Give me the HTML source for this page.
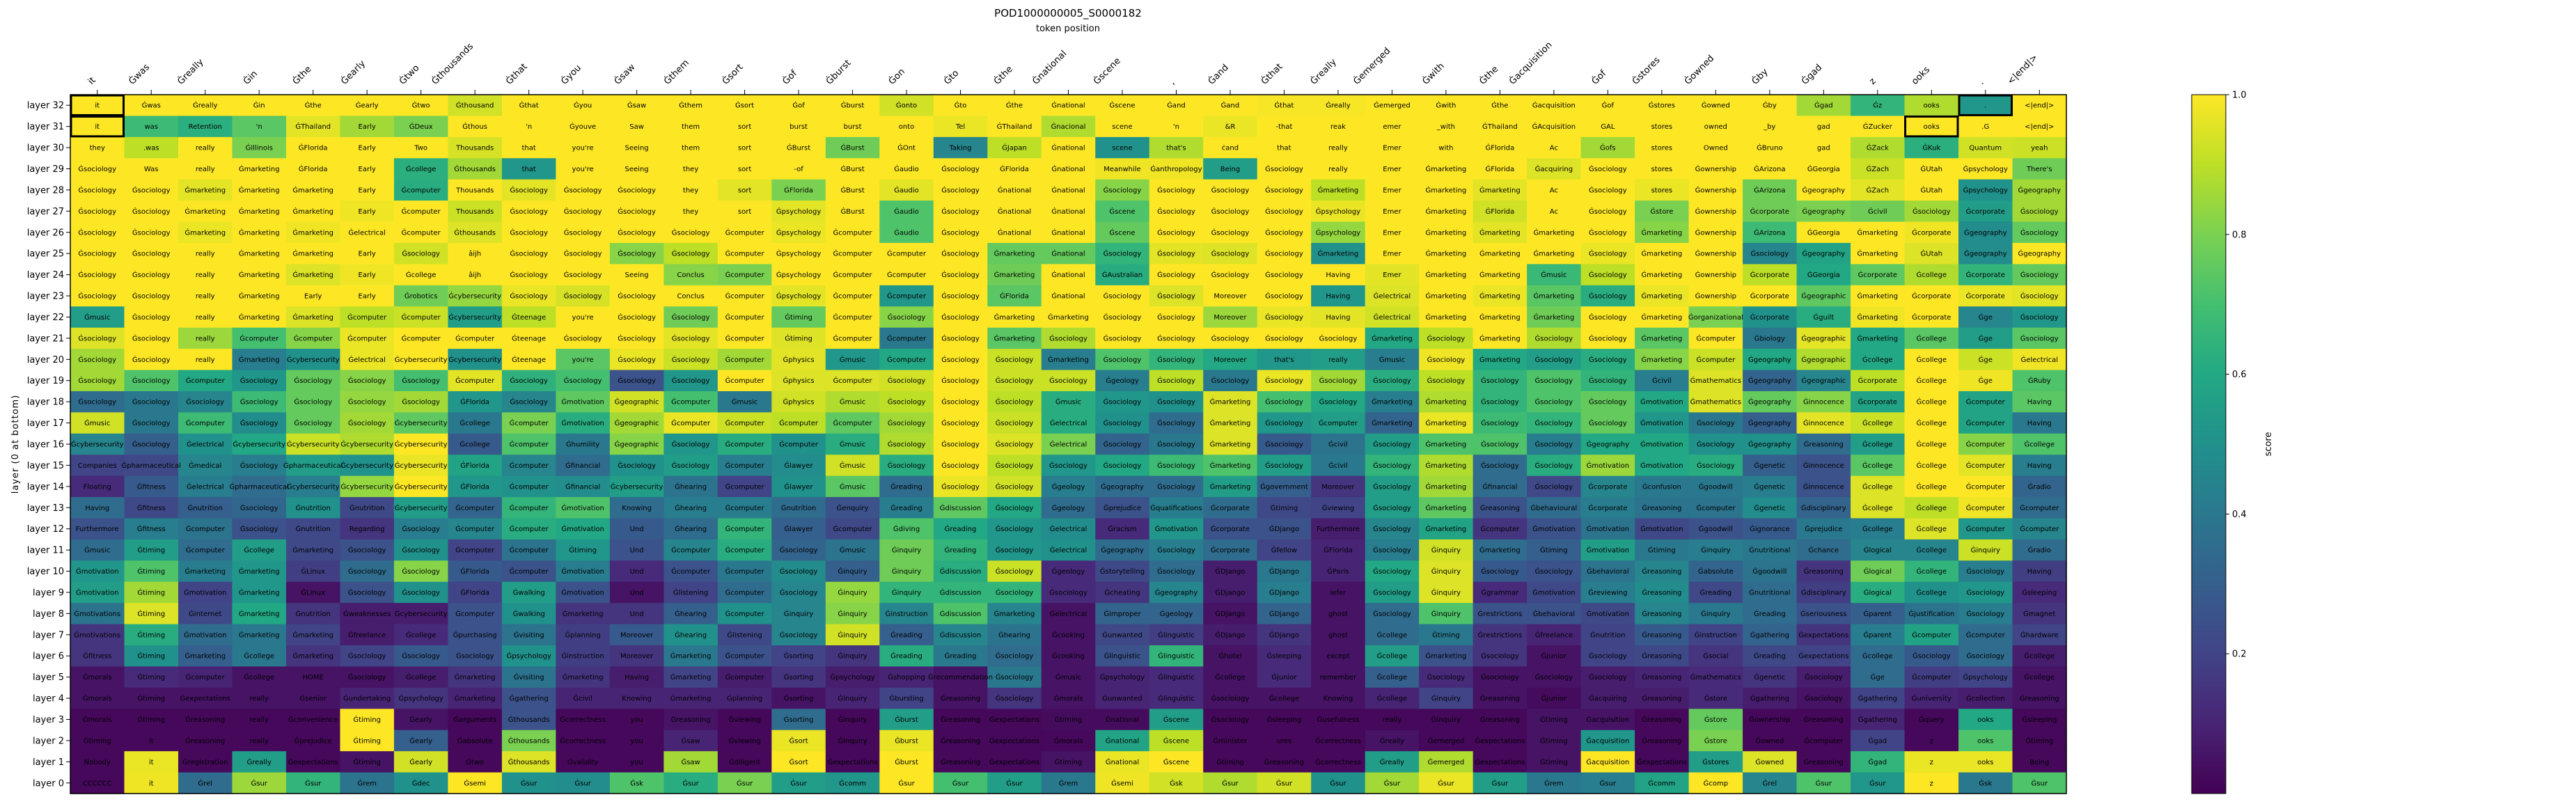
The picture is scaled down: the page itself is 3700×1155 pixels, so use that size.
<!DOCTYPE html>
<html><head><meta charset="utf-8"><title>POD1000000005_S0000182</title>
<style>html,body{margin:0;padding:0;background:#fff;}svg{display:block;font-family:"DejaVu Sans","Liberation Sans",sans-serif;}</style>
</head><body>
<svg id="chart" xmlns="http://www.w3.org/2000/svg" width="3700" height="1155" viewBox="0 0 3700 1155">
<rect width="3700" height="1155" fill="#fff"/>
<text x="1534" y="24" text-anchor="middle" font-size="15">POD1000000005_S0000182</text>
<text x="1534" y="45" text-anchor="middle" font-size="13">token position</text>
<text transform="translate(26,638) rotate(-90)" text-anchor="middle" font-size="13" letter-spacing="1">layer (0 at bottom)</text>
<g id="cells"></g>
<g id="xticks"></g>
<g id="yticks"></g>
<g id="boxes"></g>
<rect x="101" y="136" width="2867" height="1004" fill="none" stroke="#000" stroke-width="1.5"/>
<defs><linearGradient id="vir" x1="0" y1="1" x2="0" y2="0">
<stop offset="0" stop-color="#440154"/><stop offset="0.1" stop-color="#482475"/><stop offset="0.2" stop-color="#414487"/><stop offset="0.3" stop-color="#355f8d"/><stop offset="0.4" stop-color="#2a788e"/><stop offset="0.5" stop-color="#21918c"/><stop offset="0.6" stop-color="#22a884"/><stop offset="0.7" stop-color="#44bf70"/><stop offset="0.8" stop-color="#7ad151"/><stop offset="0.9" stop-color="#bddf26"/><stop offset="1" stop-color="#fde725"/>
</linearGradient></defs>
<rect x="3148" y="136" width="49" height="1004" fill="url(#vir)" stroke="#000" stroke-width="1"/>
<g id="cbticks"></g>
<text transform="translate(3262,638) rotate(-90)" text-anchor="middle" font-size="13">score</text>
</svg>
<script>
const tokens = ["it","Ġwas","Ġreally","Ġin","Ġthe","Ġearly","Ġtwo","Ġthousands","Ġthat","Ġyou","Ġsaw","Ġthem","Ġsort","Ġof","Ġburst","Ġon","Ġto","Ġthe","Ġnational","Ġscene",",","Ġand","Ġthat","Ġreally","Ġemerged","Ġwith","Ġthe","Ġacquisition","Ġof","Ġstores","Ġowned","Ġby","Ġgad","z","ooks",".","<|end|>"];
const layerLabels = [];
for (let l = 32; l >= 0; l--) layerLabels.push("layer " + l);
const cbTickValues = [0.2,0.4,0.6,0.8,1.0];
const cbTickLabels = ["0.2","0.4","0.6","0.8","1.0"];
// [rowIndexFromTop, column]
const boxedCells = [[0,0],[1,0],[1,34],[0,35]];
const rowTexts = [
"it~Ġwas~Ġreally~Ġin~Ġthe~Ġearly~Ġtwo~Ġthousand~Ġthat~Ġyou~Ġsaw~Ġthem~Ġsort~Ġof~Ġburst~Ġonto~Ġto~Ġthe~Ġnational~Ġscene~Ġand~Ġand~Ġthat~Ġreally~Ġemerged~Ġwith~Ġthe~Ġacquisition~Ġof~Ġstores~Ġowned~Ġby~Ġgad~Ġz~ooks~.~<|end|>",
"it~was~Retention~'n~ĠThailand~Early~ĠDeux~Ġthous~'n~Ġyouve~Saw~them~sort~burst~burst~onto~Tel~ĠThailand~Ġnacional~scene~'n~&R~-that~reak~emer~_with~ĠThailand~ĠAcquisition~GAL~stores~owned~_by~gad~ĠZucker~ooks~.G~<|end|>",
"they~.was~really~ĠIllinois~ĠFlorida~Early~Two~Thousands~that~you're~Seeing~them~sort~ĠBurst~ĠBurst~ĠOnt~Taking~ĠJapan~Ġnational~scene~that's~ċand~that~really~Emer~with~ĠFlorida~Ac~Ġofs~stores~Owned~ĠBruno~gad~ĠZack~ĠKuk~Quantum~yeah",
"Ġsociology~Was~really~Ġmarketing~ĠFlorida~Early~Ġcollege~Ġthousands~that~you're~Seeing~they~sort~-of~ĠBurst~Ġaudio~Ġsociology~ĠFlorida~Ġnational~Meanwhile~Ġanthropology~Being~Ġsociology~really~Emer~Ġmarketing~ĠFlorida~Ġacquiring~Ġsociology~stores~Ġownership~ĠArizona~ĠGeorgia~ĠZach~ĠUtah~Ġpsychology~There's",
"Ġsociology~Ġsociology~Ġmarketing~Ġmarketing~Ġmarketing~Early~Ġcomputer~Thousands~Ġsociology~Ġsociology~Ġsociology~they~sort~ĠFlorida~ĠBurst~Ġaudio~Ġsociology~Ġnational~Ġnational~Ġsociology~Ġsociology~Ġsociology~Ġsociology~Ġmarketing~Emer~Ġmarketing~Ġmarketing~Ac~Ġsociology~stores~Ġownership~ĠArizona~Ġgeography~ĠZach~ĠUtah~Ġpsychology~Ġgeography",
"Ġsociology~Ġsociology~Ġmarketing~Ġmarketing~Ġmarketing~Early~Ġcomputer~Thousands~Ġsociology~Ġsociology~Ġsociology~they~sort~Ġpsychology~ĠBurst~Ġaudio~Ġsociology~Ġnational~Ġnational~Ġscene~Ġsociology~Ġsociology~Ġsociology~Ġpsychology~Emer~Ġmarketing~ĠFlorida~Ac~Ġsociology~Ġstore~Ġownership~Ġcorporate~Ġgeography~Ġcivil~Ġsociology~Ġcorporate~Ġsociology",
"Ġsociology~Ġsociology~Ġmarketing~Ġmarketing~Ġmarketing~Ġelectrical~Ġcomputer~Ġthousands~Ġsociology~Ġsociology~Ġsociology~Ġsociology~Ġcomputer~Ġpsychology~Ġcomputer~Ġaudio~Ġsociology~Ġnational~Ġnational~Ġscene~Ġsociology~Ġsociology~Ġsociology~Ġpsychology~Emer~Ġmarketing~Ġmarketing~Ġmarketing~Ġsociology~Ġmarketing~Ġownership~ĠArizona~ĠGeorgia~Ġmarketing~Ġcorporate~Ġgeography~Ġsociology",
"Ġsociology~Ġsociology~really~Ġmarketing~Ġmarketing~Early~Ġsociology~âĳh~Ġsociology~Ġsociology~Ġsociology~Ġsociology~Ġcomputer~Ġpsychology~Ġcomputer~Ġcomputer~Ġsociology~Ġmarketing~Ġnational~Ġsociology~Ġsociology~Ġsociology~Ġsociology~Ġmarketing~Emer~Ġmarketing~Ġmarketing~Ġmarketing~Ġsociology~Ġmarketing~Ġownership~Ġsociology~Ġgeography~Ġmarketing~ĠUtah~Ġgeography~Ġgeography",
"Ġsociology~Ġsociology~really~Ġmarketing~Ġmarketing~Early~Ġcollege~âĳh~Ġsociology~Ġsociology~Seeing~Conclus~Ġcomputer~Ġpsychology~Ġcomputer~Ġcomputer~Ġsociology~Ġmarketing~Ġnational~ĠAustralian~Ġsociology~Ġsociology~Ġsociology~Having~Emer~Ġmarketing~Ġmarketing~Ġmusic~Ġsociology~Ġmarketing~Ġownership~Ġcorporate~ĠGeorgia~Ġcorporate~Ġcollege~Ġcorporate~Ġsociology",
"Ġsociology~Ġsociology~really~Ġmarketing~Early~Early~Ġrobotics~Ġcybersecurity~Ġsociology~Ġsociology~Ġsociology~Conclus~Ġcomputer~Ġpsychology~Ġcomputer~Ġcomputer~Ġsociology~ĠFlorida~Ġnational~Ġsociology~Ġsociology~Moreover~Ġsociology~Having~Ġelectrical~Ġmarketing~Ġmarketing~Ġmarketing~Ġsociology~Ġmarketing~Ġownership~Ġcorporate~Ġgeographic~Ġmarketing~Ġcorporate~Ġcorporate~Ġsociology",
"Ġmusic~Ġsociology~really~Ġmarketing~Ġmarketing~Ġcomputer~Ġcomputer~Ġcybersecurity~Ġteenage~you're~Ġsociology~Ġsociology~Ġcomputer~Ġtiming~Ġcomputer~Ġsociology~Ġsociology~Ġmarketing~Ġmarketing~Ġsociology~Ġsociology~Moreover~Ġsociology~Having~Ġelectrical~Ġmarketing~Ġmarketing~Ġmarketing~Ġsociology~Ġmarketing~Ġorganizational~Ġcorporate~Ġguilt~Ġmarketing~Ġcorporate~Ġge~Ġsociology",
"Ġsociology~Ġsociology~really~Ġcomputer~Ġcomputer~Ġcomputer~Ġcomputer~Ġcomputer~Ġteenage~Ġsociology~Ġsociology~Ġsociology~Ġcomputer~Ġtiming~Ġcomputer~Ġcomputer~Ġsociology~Ġmarketing~Ġsociology~Ġsociology~Ġsociology~Ġsociology~Ġsociology~Ġsociology~Ġmarketing~Ġsociology~Ġmarketing~Ġsociology~Ġsociology~Ġmarketing~Ġcomputer~Ġbiology~Ġgeographic~Ġmarketing~Ġcollege~Ġge~Ġsociology",
"Ġsociology~Ġsociology~really~Ġmarketing~Ġcybersecurity~Ġelectrical~Ġcybersecurity~Ġcybersecurity~Ġteenage~you're~Ġsociology~Ġsociology~Ġcomputer~Ġphysics~Ġmusic~Ġcomputer~Ġsociology~Ġsociology~Ġmarketing~Ġsociology~Ġsociology~Moreover~that's~really~Ġmusic~Ġsociology~Ġmarketing~Ġsociology~Ġsociology~Ġmarketing~Ġcomputer~Ġgeography~Ġgeographic~Ġcollege~Ġcollege~Ġge~Ġelectrical",
"Ġsociology~Ġsociology~Ġcomputer~Ġsociology~Ġsociology~Ġsociology~Ġsociology~Ġcomputer~Ġsociology~Ġsociology~Ġsociology~Ġsociology~Ġcomputer~Ġphysics~Ġcomputer~Ġsociology~Ġsociology~Ġsociology~Ġsociology~Ġgeology~Ġsociology~Ġsociology~Ġsociology~Ġsociology~Ġsociology~Ġsociology~Ġsociology~Ġsociology~Ġsociology~Ġcivil~Ġmathematics~Ġgeography~Ġgeographic~Ġcorporate~Ġcollege~Ġge~ĠRuby",
"Ġsociology~Ġsociology~Ġsociology~Ġsociology~Ġsociology~Ġsociology~Ġsociology~ĠFlorida~Ġsociology~Ġmotivation~Ġgeographic~Ġcomputer~Ġmusic~Ġphysics~Ġmusic~Ġsociology~Ġsociology~Ġsociology~Ġmusic~Ġsociology~Ġsociology~Ġmarketing~Ġsociology~Ġsociology~Ġmarketing~Ġmarketing~Ġsociology~Ġsociology~Ġsociology~Ġmotivation~Ġmathematics~Ġgeography~Ġinnocence~Ġcorporate~Ġcollege~Ġcomputer~Having",
"Ġmusic~Ġsociology~Ġcomputer~Ġsociology~Ġsociology~Ġsociology~Ġcybersecurity~Ġcollege~Ġcomputer~Ġmotivation~Ġgeographic~Ġcomputer~Ġcomputer~Ġcomputer~Ġcomputer~Ġsociology~Ġsociology~Ġsociology~Ġelectrical~Ġsociology~Ġsociology~Ġmarketing~Ġsociology~Ġcomputer~Ġmarketing~Ġmarketing~Ġsociology~Ġsociology~Ġsociology~Ġmotivation~Ġsociology~Ġgeography~Ġinnocence~Ġcollege~Ġcollege~Ġcomputer~Having",
"Ġcybersecurity~Ġsociology~Ġelectrical~Ġcybersecurity~Ġcybersecurity~Ġcybersecurity~Ġcybersecurity~Ġcollege~Ġcomputer~Ġhumility~Ġgeographic~Ġsociology~Ġcomputer~Ġcomputer~Ġmusic~Ġsociology~Ġsociology~Ġsociology~Ġelectrical~Ġsociology~Ġsociology~Ġmarketing~Ġsociology~Ġcivil~Ġsociology~Ġmarketing~Ġsociology~Ġsociology~Ġgeography~Ġmotivation~Ġsociology~Ġgeography~Ġreasoning~Ġcollege~Ġcollege~Ġcomputer~Ġcollege",
"Companies~Ġpharmaceutical~Ġmedical~Ġsociology~Ġpharmaceutical~Ġcybersecurity~Ġcybersecurity~ĠFlorida~Ġcomputer~Ġfinancial~Ġsociology~Ġsociology~Ġcomputer~Ġlawyer~Ġmusic~Ġsociology~Ġsociology~Ġsociology~Ġsociology~Ġsociology~Ġsociology~Ġmarketing~Ġsociology~Ġcivil~Ġsociology~Ġmarketing~Ġsociology~Ġsociology~Ġmotivation~Ġmotivation~Ġsociology~Ġgenetic~Ġinnocence~Ġcollege~Ġcollege~Ġcomputer~Having",
"Floating~Ġfitness~Ġelectrical~Ġpharmaceutical~Ġcybersecurity~Ġcybersecurity~Ġcybersecurity~ĠFlorida~Ġcomputer~Ġfinancial~Ġcybersecurity~Ġhearing~Ġcomputer~Ġlawyer~Ġmusic~Ġreading~Ġsociology~Ġsociology~Ġgeology~Ġgeography~Ġsociology~Ġmarketing~Ġgovernment~Moreover~Ġsociology~Ġmarketing~Ġfinancial~Ġsociology~Ġcorporate~Ġconfusion~Ġgoodwill~Ġgenetic~Ġinnocence~Ġcollege~Ġcollege~Ġcomputer~Ġradio",
"Having~Ġfitness~Ġnutrition~Ġsociology~Ġnutrition~Ġnutrition~Ġcybersecurity~Ġcomputer~Ġcomputer~Ġmotivation~Knowing~Ġhearing~Ġcomputer~Ġnutrition~Ġenquiry~Ġreading~Ġdiscussion~Ġsociology~Ġgeology~Ġprejudice~Ġqualifications~Ġcorporate~Ġtiming~Ġviewing~Ġsociology~Ġmarketing~Ġreasoning~Ġbehavioural~Ġcorporate~Ġreasoning~Ġcomputer~Ġgenetic~Ġdisciplinary~Ġcollege~Ġcollege~Ġcomputer~Ġcomputer",
"Furthermore~Ġfitness~Ġcomputer~Ġsociology~Ġnutrition~Regarding~Ġsociology~Ġcomputer~Ġcomputer~Ġmotivation~Und~Ġhearing~Ġcomputer~Ġlawyer~Ġcomputer~Ġdiving~Ġreading~Ġsociology~Ġelectrical~Ġracism~Ġmotivation~Ġcorporate~ĠDjango~Furthermore~Ġsociology~Ġmarketing~Ġcomputer~Ġmotivation~Ġmotivation~Ġmotivation~Ġgoodwill~Ġignorance~Ġprejudice~Ġcollege~Ġcollege~Ġcomputer~Ġcomputer",
"Ġmusic~Ġtiming~Ġcomputer~Ġcollege~Ġmarketing~Ġsociology~Ġsociology~Ġcomputer~Ġcomputer~Ġtiming~Und~Ġcomputer~Ġcomputer~Ġsociology~Ġmusic~Ġinquiry~Ġreading~Ġsociology~Ġelectrical~Ġgeography~Ġsociology~Ġcorporate~Ġfellow~ĠFlorida~Ġsociology~Ġinquiry~Ġmarketing~Ġtiming~Ġmotivation~Ġtiming~Ġinquiry~Ġnutritional~Ġchance~Ġlogical~Ġcollege~Ġinquiry~Ġradio",
"Ġmotivation~Ġtiming~Ġmarketing~Ġmarketing~ĠLinux~Ġsociology~Ġsociology~ĠFlorida~Ġcomputer~Ġmotivation~Und~Ġcomputer~Ġcomputer~Ġsociology~Ġinquiry~Ġinquiry~Ġdiscussion~Ġsociology~Ġgeology~Ġstorytelling~Ġsociology~ĠDjango~ĠDjango~ĠParis~Ġsociology~Ġinquiry~Ġsociology~Ġsociology~Ġbehavioral~Ġreasoning~Ġabsolute~Ġgoodwill~Ġreasoning~Ġlogical~Ġcollege~Ġsociology~Having",
"Ġmotivation~Ġtiming~Ġmotivation~Ġmarketing~ĠLinux~Ġsociology~Ġsociology~ĠFlorida~Ġwalking~Ġmotivation~Und~Ġlistening~Ġcomputer~Ġsociology~Ġinquiry~Ġinquiry~Ġdiscussion~Ġsociology~Ġsociology~Ġcheating~Ġgeography~ĠDjango~ĠDjango~iefer~Ġsociology~Ġinquiry~Ġgrammar~Ġmotivation~Ġreviewing~Ġreasoning~Ġreading~Ġnutritional~Ġdisciplinary~Ġlogical~Ġcollege~Ġsociology~Ġsleeping",
"Ġmotivations~Ġtiming~Ġinternet~Ġmarketing~Ġnutrition~Ġweaknesses~Ġcybersecurity~Ġcomputer~Ġwalking~Ġmarketing~Und~Ġhearing~Ġcomputer~Ġinquiry~Ġinquiry~Ġinstruction~Ġdiscussion~Ġmarketing~Ġelectrical~Ġimproper~Ġgeology~ĠDjango~ĠDjango~ghost~Ġsociology~Ġinquiry~Ġrestrictions~Ġbehavioral~Ġmotivation~Ġreasoning~Ġinquiry~Ġreading~Ġseriousness~Ġparent~Ġjustification~Ġsociology~Ġmagnet",
"Ġmotivations~Ġtiming~Ġmotivation~Ġmarketing~Ġmarketing~Ġfreelance~Ġcollege~Ġpurchasing~Ġvisiting~Ġplanning~Moreover~Ġhearing~Ġlistening~Ġsociology~Ġinquiry~Ġreading~Ġdiscussion~Ġhearing~Ġcooking~Ġunwanted~Ġlinguistic~ĠDjango~ĠDjango~ghost~Ġcollege~Ġtiming~Ġrestrictions~Ġfreelance~Ġnutrition~Ġreasoning~Ġinstruction~Ġgathering~Ġexpectations~Ġparent~Ġcomputer~Ġcomputer~Ġhardware",
"Ġfitness~Ġtiming~Ġmarketing~Ġcollege~Ġmarketing~Ġsociology~Ġsociology~Ġsociology~Ġpsychology~Ġinstruction~Moreover~Ġmarketing~Ġcomputer~Ġsorting~Ġinquiry~Ġreading~Ġreading~Ġsociology~Ġcooking~Ġlinguistic~Ġlinguistic~Ġhotel~Ġsleeping~except~Ġcollege~Ġmarketing~Ġsociology~Ġjunior~Ġsociology~Ġreasoning~Ġsocial~Ġreading~Ġexpectations~Ġcollege~Ġsociology~Ġsociology~Ġcollege",
"Ġmorals~Ġtiming~Ġcomputer~Ġcollege~HOME~Ġsociology~Ġcollege~Ġmarketing~Ġvisiting~Ġmarketing~Having~Ġmarketing~Ġcomputer~Ġsorting~Ġpsychology~Ġshopping~Ġrecommendation~Ġsociology~Ġmusic~Ġpsychology~Ġlinguistic~Ġcollege~Ġjunior~remember~Ġcollege~Ġsociology~Ġsociology~Ġsociology~Ġsociology~Ġreasoning~Ġmathematics~Ġgenetic~Ġsociology~Ġge~Ġcomputer~Ġpsychology~Ġcollege",
"Ġmorals~Ġtiming~Ġexpectations~really~Ġsenior~Ġundertaking~Ġpsychology~Ġmarketing~Ġgathering~Ġcivil~Knowing~Ġmarketing~Ġplanning~Ġsorting~Ġinquiry~Ġbursting~Ġreasoning~Ġsociology~Ġmorals~Ġunwanted~Ġlinguistic~Ġsociology~Ġcollege~Knowing~Ġcollege~Ġinquiry~Ġreasoning~Ġjunior~Ġacquiring~Ġreasoning~Ġstore~Ġgathering~Ġsociology~Ġgathering~Ġuniversity~Ġcollection~Ġreasoning",
"Ġmorals~Ġtiming~Ġreasoning~really~Ġconvenience~Ġtiming~Ġearly~Ġarguments~Ġthousands~Ġcorrectness~you~Ġreasoning~Ġviewing~Ġsorting~Ġinquiry~Ġburst~Ġreasoning~Ġexpectations~Ġtiming~Ġnational~Ġscene~Ġsociology~Ġsleeping~Ġusefulness~really~Ġinquiry~Ġreasoning~Ġtiming~Ġacquisition~Ġreasoning~Ġstore~Ġownership~Ġreasoning~Ġgathering~Ġquery~ooks~Ġsleeping",
"Ġtiming~it~Ġreasoning~really~Ġprejudice~Ġtiming~Ġearly~Ġabsolute~Ġthousands~Ġcorrectness~you~Ġsaw~Ġviewing~Ġsort~Ġinquiry~Ġburst~Ġreasoning~Ġexpectations~Ġmorals~Ġnational~Ġscene~Ġminister~ures~Ġcorrectness~Ġreally~Ġemerged~Ġexpectations~Ġtiming~Ġacquisition~Ġreasoning~Ġstore~Ġowned~Ġcomputer~Ġgad~z~ooks~Ġtiming",
"Nobody~it~Ġregistration~Ġreally~Ġexpectations~Ġtiming~Ġearly~Ġtwo~Ġthousands~Ġvalidity~you~Ġsaw~Ġdiligent~Ġsort~Ġexpectations~Ġburst~Ġreasoning~Ġexpectations~Ġtiming~Ġnational~Ġscene~Ġtiming~Ġreasoning~Ġcorrectness~Ġreally~Ġemerged~Ġexpectations~Ġtiming~Ġacquisition~Ġexpectations~Ġstores~Ġowned~Ġreasoning~Ġgad~z~ooks~Being",
"CCCCCC~it~Ġrel~Ġsur~Ġsur~Ġrem~Ġdec~Ġsemi~Ġsur~Ġsur~Ġsk~Ġsur~Ġsur~Ġsur~Ġcomm~Ġsur~Ġsur~Ġsur~Ġrem~Ġsemi~Ġsk~Ġsur~Ġsur~Ġsur~Ġsur~Ġsur~Ġsur~Ġrem~Ġsur~Ġcomm~Ġcomp~Ġrel~Ġsur~Ġsur~z~Ġsk~Ġsur"
];
const rowScores = [
[1,1,1,1,1,1,1,.93,1,1,1,1,1,1,1,.93,1,1,1,1,1,1,.99,.99,1,1,1,1,1,1,1,1,.86,.65,.88,.52,1],
[1,.68,.63,.74,.96,.86,.8,1,1,1,1,1,1,1,1,1,.97,1,.88,1,1,.97,1,1,1,1,1,1,1,1,1,1,1,1,1,1,1],
[1,.9,1,.8,1,1,1,.94,1,1,1,1,1,1,.78,1,.45,.9,1,.5,.88,1,1,1,1,1,1,1,.86,1,1,1,1,.88,.63,.93,.92],
[1,1,1,1,1,1,.63,.86,.52,1,1,1,1,1,1,1,1,1,1,.98,.98,.55,1,1,1,1,1,.95,1,1,1,1,1,.92,1,1,.78],
[1,1,.96,1,1,1,.62,1,.96,1,1,1,.96,.8,1,.96,1,1,1,.82,1,1,1,.9,1,1,.96,1,1,.97,1,.78,1,.96,1,.5,.86],
[1,1,1,1,1,.98,1,.92,1,1,1,1,1,.96,1,.72,1,1,1,.72,1,1,1,.97,1,1,.93,1,1,.8,1,.78,.8,.78,.86,.55,.86],
[1,1,.97,1,.98,1,1,.95,1,1,1,1,1,.97,1,.72,1,1,1,.76,1,1,1,.84,1,1,.96,1,1,.82,1,.68,1,1,.98,.48,.76],
[1,1,1,1,1,1,.93,1,1,1,.82,.9,1,1,1,1,1,.76,.76,.65,.96,.95,1,.5,1,1,1,1,.97,1,1,.45,.58,1,.95,.48,1],
[1,1,1,1,.95,.98,1,1,1,1,1,.82,.8,1,1,1,1,.78,1,.62,1,1,1,1,.96,1,1,.67,.9,1,1,.9,.6,.75,.88,.65,.76],
[1,1,1,1,1,1,.78,.84,.97,.94,1,1,1,.96,1,.52,1,.74,1,1,.95,1,1,.52,.95,1,.97,.74,.62,.97,1,1,.75,1,1,.97,.96],
[.55,1,1,1,.95,.9,.92,.55,.9,1,1,.78,1,.76,1,.82,1,1,1,1,1,.85,.97,.96,.93,1,1,.78,1,1,.8,.5,.62,.98,1,.45,.52],
[.95,1,.85,.7,.82,.97,1,1,1,1,1,.96,1,.95,1,.4,1,.74,.88,1,1,1,1,1,.6,.9,1,.88,1,.74,1,.4,.96,.6,.74,.55,.74],
[.86,1,1,.42,.5,.97,1,.5,1,.74,.97,.92,.86,.96,.52,.6,1,.92,.42,.72,.65,.6,.52,.55,.42,.98,.6,.55,.62,.82,.92,.6,.88,.6,1,.92,.98],
[.86,.72,.6,.52,.76,.82,.7,.96,.64,.7,.25,.52,1,.95,.95,.93,1,.92,.92,.42,.9,.4,.97,.86,.62,.9,.65,.72,.65,.42,.95,.32,.45,.9,1,.98,.72],
[.35,.4,.45,.68,.76,.84,.86,.52,.45,.75,.93,.7,.4,.93,.88,.9,1,.9,.62,.52,.5,.95,.7,.6,.42,.88,.65,.72,.76,.6,.95,.76,.82,.58,1,.58,.74],
[.93,.4,.68,.48,.76,.86,.75,.4,.8,.62,.86,.97,.92,.9,.75,.86,1,.92,.62,.5,.35,.95,.52,.55,.32,.97,.68,.65,.76,.52,.4,.3,.96,.92,1,.58,.4],
[.45,.3,.5,.6,.92,.88,1,.28,.72,.4,.82,.52,.62,.5,.62,.88,1,.95,.8,.32,.4,.95,.28,.38,.55,.72,.72,.42,.6,.6,.5,.5,.35,.55,1,.82,.72],
[.2,.22,.45,.42,.55,.5,.97,.58,.45,.35,.5,.55,.42,.48,.93,.62,1,.9,.52,.6,.68,.72,.55,.4,.65,.88,.35,.62,.85,.6,.62,.3,.25,.74,1,.96,.42],
[.12,.28,.42,.35,.42,.84,1,.52,.5,.48,.55,.38,.2,.5,.74,.35,.97,.93,.42,.35,.35,.55,.3,.15,.55,.86,.35,.22,.45,.4,.4,.42,.25,.95,1,1,.32],
[.35,.22,.3,.33,.5,.22,.55,.32,.65,.72,.35,.42,.42,.35,.25,.42,.75,.6,.35,.25,.42,.35,.22,.2,.55,.75,.25,.35,.42,.38,.38,.48,.32,.95,.9,.98,.35],
[.25,.42,.38,.25,.22,.15,.42,.45,.62,.6,.28,.35,.65,.3,.22,.72,.6,.52,.48,.12,.52,.25,.25,.08,.45,.58,.15,.25,.38,.22,.25,.28,.4,.42,.95,.52,.45],
[.35,.55,.35,.55,.22,.25,.5,.2,.38,.52,.25,.45,.62,.32,.38,.78,.65,.52,.5,.35,.42,.35,.2,.1,.42,.93,.35,.3,.55,.4,.42,.4,.35,.45,.45,.92,.35],
[.52,.72,.42,.52,.18,.35,.82,.28,.25,.42,.12,.25,.4,.48,.3,.78,.62,.92,.12,.22,.35,.08,.4,.1,.6,.95,.28,.25,.38,.45,.32,.38,.15,.78,.65,.42,.18],
[.55,.86,.2,.52,.05,.25,.5,.2,.55,.25,.05,.2,.35,.45,.84,.65,.65,.65,.12,.15,.45,.08,.42,.05,.55,.95,.12,.22,.42,.48,.22,.35,.18,.62,.5,.52,.12],
[.38,.95,.22,.6,.15,.08,.08,.25,.5,.15,.15,.3,.5,.45,.82,.45,.72,.45,.05,.32,.32,.05,.32,.05,.35,.72,.25,.25,.22,.45,.4,.35,.25,.3,.38,.42,.15],
[.15,.62,.35,.4,.2,.08,.12,.25,.38,.18,.28,.5,.22,.45,.93,.3,.45,.38,.05,.22,.18,.08,.15,.05,.35,.4,.15,.1,.2,.28,.2,.32,.15,.42,.58,.35,.2],
[.15,.5,.3,.4,.15,.2,.28,.25,.5,.18,.15,.4,.25,.2,.15,.62,.4,.35,.05,.25,.65,.05,.12,.05,.55,.25,.15,.05,.2,.22,.15,.22,.2,.35,.28,.35,.08],
[.05,.12,.1,.05,.05,.05,.08,.15,.38,.15,.08,.2,.08,.15,.08,.1,.05,.4,.05,.1,.12,.05,.12,.05,.3,.12,.05,.05,.08,.1,.12,.15,.08,.35,.18,.2,.05],
[.05,.05,.05,.05,.05,.1,.15,.1,.25,.1,.1,.1,.1,.05,.1,.2,.05,.15,.05,.1,.12,.05,.05,.05,.1,.2,.05,.03,.08,.08,.12,.08,.05,.2,.1,.08,.05],
[.02,.02,.02,.02,.02,1,.05,.02,.25,.02,.02,.05,.02,.35,.02,.55,.02,.02,.03,.03,.55,.02,.02,.02,.02,.02,.02,.05,.05,.02,.76,.02,.02,.1,.02,.6,.02],
[.02,.02,.02,.02,.02,1,.3,.02,.8,.02,.02,.1,.02,.97,.02,.97,.02,.02,.02,.58,.9,.02,.02,.02,.05,.02,.02,.05,.52,.02,.8,.02,.02,.2,.02,.72,.02],
[.02,.97,.02,.55,.02,.05,.93,.02,.95,.02,.02,.86,.02,1,.02,1,.02,.02,.05,.97,1,.02,.02,.02,.55,.88,.02,.05,1,.02,.55,.95,.02,.65,.97,.97,.02],
[.02,.98,.35,.85,.65,.38,.5,1,.5,.48,.72,.62,.8,.55,.52,1,.7,.55,.4,.98,.93,.88,.93,.5,.86,.97,.55,.4,.42,.58,1,.45,.72,.52,1,.4,.72]
];

const NS = "http://www.w3.org/2000/svg";
const X0 = 101, Y0 = 136, W = 2867, H = 1004;
const nCols = tokens.length, nRows = layerLabels.length;
const cw = W / nCols, rh = H / nRows;
function xPos(c){ return X0 + c * cw; }
function yPos(r){ return Y0 + r * rh; }
function cbY(v){ return Y0 + H - v * H; }
const vir = ["#440154","#482475","#414487","#355f8d","#2a788e","#21918c","#22a884","#44bf70","#7ad151","#bddf26","#fde725"];
function hex(h){ return [parseInt(h.substr(1,2),16),parseInt(h.substr(3,2),16),parseInt(h.substr(5,2),16)]; }
function viridis(v){
  v = Math.max(0, Math.min(1, v));
  const t = v * 10, i = Math.min(9, Math.floor(t)), f = t - i;
  const a = hex(vir[i]), b = hex(vir[i+1]);
  return "rgb(" + a.map((x,k)=>Math.round(x + (b[k]-x)*f)).join(",") + ")";
}
function mk(tag, attrs){ const e = document.createElementNS(NS, tag); for (const k in attrs) e.setAttribute(k, attrs[k]); return e; }

const cells = document.getElementById("cells");
for (let r = 0; r < nRows; r++) {
  const texts = rowTexts[r].split("~");
  for (let c = 0; c < nCols; c++) {
    const rect = mk("rect", {x: xPos(c), y: yPos(r), width: cw + 0.6, height: rh + 0.6, fill: viridis(rowScores[r][c])});
    
    
    cells.appendChild(rect);
  }
  for (let c = 0; c < nCols; c++) {
    const t = mk("text", {x: xPos(c) + cw/2, y: yPos(r) + rh/2 + 3.5, "text-anchor": "middle", "font-size": "10", fill: "#000"});
    t.textContent = texts[c];
    
    
    cells.appendChild(t);
  }
}

const xt = document.getElementById("xticks");
for (let c = 0; c < nCols; c++) {
  const cx = xPos(c) + cw/2;
  const tk = mk("line", {x1: cx, y1: Y0 - 7, x2: cx, y2: Y0, stroke: "#000", "stroke-width": 1});
  
  
  xt.appendChild(tk);
  const t = mk("text", {"font-size": "13", fill: "#000"});
  t.textContent = tokens[c];
  
  
  xt.appendChild(t);
  const L = t.getComputedTextLength();
  const x0 = cx - L * 0.7071 - 2, y0 = Y0 - 14;
  t.setAttribute("transform", "translate(" + x0 + "," + y0 + ") rotate(-45)");
}

const yt = document.getElementById("yticks");
for (let r = 0; r < nRows; r++) {
  const cy = yPos(r) + rh/2;
  const tk = mk("line", {x1: X0 - 6, y1: cy, x2: X0, y2: cy, stroke: "#000", "stroke-width": 1});
  
  
  yt.appendChild(tk);
  const t = mk("text", {x: X0 - 9, y: cy + 4.5, "text-anchor": "end", "font-size": "13", fill: "#000"});
  t.textContent = layerLabels[r];
  
  
  yt.appendChild(t);
}

const bx = document.getElementById("boxes");
boxedCells.forEach(function(p){
  const b = mk("rect", {x: xPos(p[1]) + 1, y: yPos(p[0]) + 1, width: cw - 2, height: rh - 2, fill: "none", stroke: "#000", "stroke-width": 3});
  
  
  bx.appendChild(b);
});

const cb = document.getElementById("cbticks");
cbTickValues.forEach(function(v, i){
  const y = cbY(v);
  const tk = mk("line", {x1: 3197, y1: y, x2: 3202, y2: y, stroke: "#000", "stroke-width": 1});
  
  
  cb.appendChild(tk);
  const t = mk("text", {x: 3206, y: y + 4.5, "font-size": "13", fill: "#000"});
  t.textContent = cbTickLabels[i];
  
  
  cb.appendChild(t);
});
</script>
</body></html>
